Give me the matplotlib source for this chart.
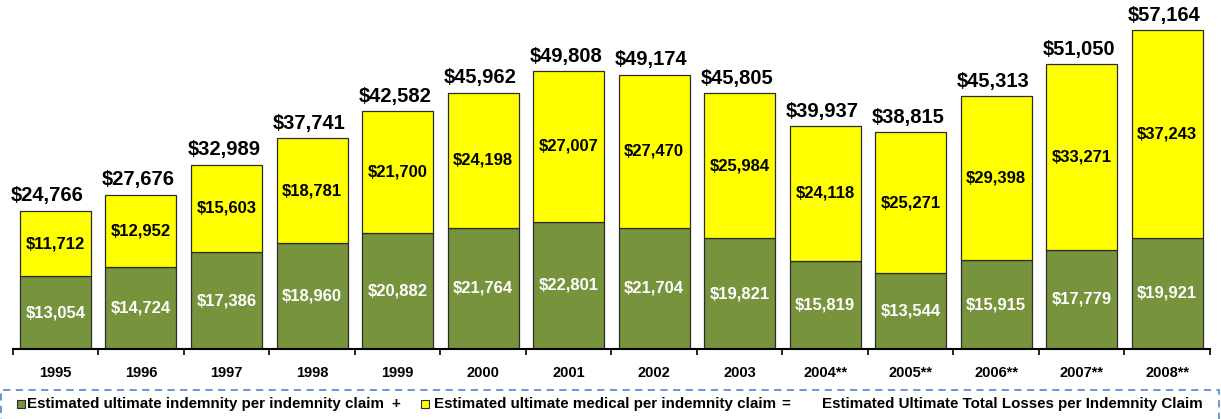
import numpy as np
import matplotlib.pyplot as plt
from matplotlib.patches import Rectangle

years = ["1995", "1996", "1997", "1998", "1999", "2000", "2001",
         "2002", "2003", "2004**", "2005**", "2006**", "2007**", "2008**"]
indemnity = [13054, 14724, 17386, 18960, 20882, 21764, 22801,
             21704, 19821, 15819, 13544, 15915, 17779, 19921]
medical = [11712, 12952, 15603, 18781, 21700, 24198, 27007,
           27470, 25984, 24118, 25271, 29398, 33271, 37243]
totals = [24766, 27676, 32989, 37741, 42582, 45962, 49808,
          49174, 45805, 39937, 38815, 45313, 51050, 57164]

green = '#77933C'
yellow = '#FFFF00'
edge = '#2b2b2b'
font = 'Liberation Sans'

fig = plt.figure(figsize=(12.21, 4.19), dpi=100)
ax = fig.add_axes([0.0104, 0.167, 0.9806, 0.799])

x = np.arange(len(years))
w = 0.83
b1 = ax.bar(x, indemnity, w, color=green, edgecolor=edge, linewidth=0.9)
b2 = ax.bar(x, medical, w, bottom=indemnity, color=yellow, edgecolor=edge, linewidth=0.9)

for i in range(len(years)):
    ax.text(x[i], indemnity[i] / 2, f"${indemnity[i]:,}", ha='center', va='center',
            color='white', fontsize=12, fontweight='bold', family=font)
    ax.text(x[i], indemnity[i] + medical[i] / 2, f"${medical[i]:,}", ha='center', va='center',
            color='black', fontsize=12, fontweight='bold', family=font)
    # first total label sits a little to the left in the original
    dx = -6 if i == 0 else -2
    ax.annotate(f"${totals[i]:,}", (x[i], indemnity[i] + medical[i]), xytext=(dx, 4),
                textcoords='offset points', ha='center', va='bottom',
                fontsize=14.5, fontweight='bold', family=font)

ax.set_xlim(-0.5, len(years) - 0.5)
ax.set_ylim(0, 60000)
for s in ['left', 'top', 'right']:
    ax.spines[s].set_visible(False)
ax.spines['bottom'].set_linewidth(1.5)
ax.set_yticks([])
ax.set_xticks(x)
ax.set_xticklabels(years, fontsize=10.5, fontweight='bold', family=font)
ax.tick_params(axis='x', which='major', length=0, pad=12)
ax.set_xticks(np.arange(-0.5, len(years), 1), minor=True)
ax.tick_params(axis='x', which='minor', length=4, width=1.2, direction='out')

# legend strip with dashed border
fig.patches.append(Rectangle((0.001, -0.05), 0.997, 0.119, transform=fig.transFigure,
                             fill=False, edgecolor='#5B8FD6', linestyle=(0, (4, 3)),
                             linewidth=1.3))
ly = 1 - 404 / 419
sq_h = 8 / 419
sq_w = 8 / 1221
fig.patches.append(Rectangle((17 / 1221, ly - sq_h / 2), sq_w, sq_h, transform=fig.transFigure,
                             facecolor=green, edgecolor=edge, linewidth=0.8))
fig.patches.append(Rectangle((421 / 1221, ly - sq_h / 2), sq_w, sq_h, transform=fig.transFigure,
                             facecolor=yellow, edgecolor=edge, linewidth=0.8))
kw = dict(fontsize=10.9, fontweight='bold', family=font, va='center')
fig.text(27 / 1221, ly, "Estimated ultimate indemnity per indemnity claim", **kw)
fig.text(396 / 1221, ly, "+", ha='center', **kw)
fig.text(434 / 1221, ly, "Estimated ultimate medical per indemnity claim", **kw)
fig.text(786 / 1221, ly, "=", ha='center', **kw)
fig.text(1203 / 1221, ly, "Estimated Ultimate Total Losses per Indemnity Claim", ha='right', **kw)

fig.savefig("out.png", dpi=100)
